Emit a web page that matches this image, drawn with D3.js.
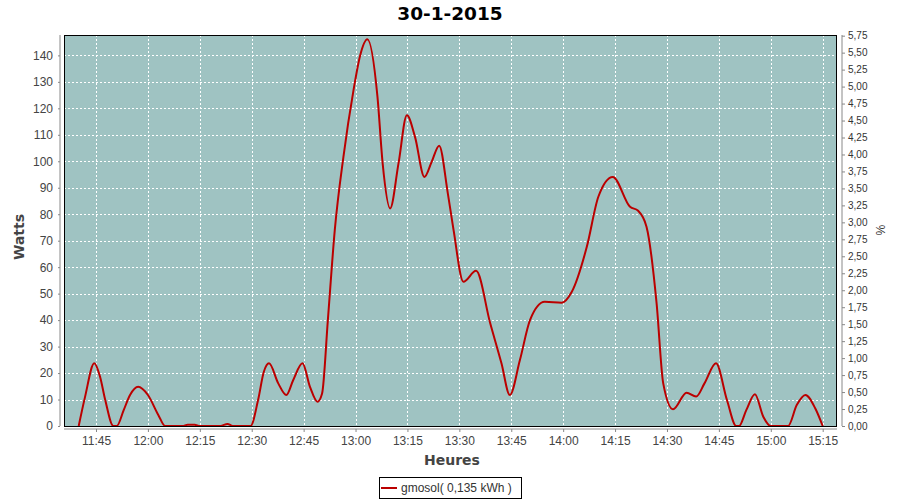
<!DOCTYPE html>
<html><head><meta charset="utf-8">
<script src="https://cdn.jsdelivr.net/npm/d3@7"></script>
<style>body{margin:0;background:#fff}svg{display:block}</style>
</head><body><svg id="c" width="900" height="500"></svg>
<script>
const chartTitle = "30-1-2015";
const times = ["11:40:00","11:41:50","11:44:30","11:46:10","11:47:40","11:50:00","11:51:00","11:53:00","11:54:50","11:57:10",
"12:00:00","12:03:00","12:05:00","12:10:00","12:11:30","12:13:30","12:15:00","12:21:00","12:23:00","12:24:30",
"12:29:40","12:31:50","12:33:30","12:35:00","12:37:40","12:40:00","12:42:00","12:44:40","12:46:50","12:49:00",
"12:50:20","12:52:00","12:54:00","12:56:30","12:59:25","13:01:20","13:03:25","13:06:20","13:07:50","13:10:00",
"13:12:25","13:14:50","13:17:10","13:19:55","13:22:00","13:24:10","13:26:40","13:28:20","13:31:10","13:34:50",
"13:38:55","13:42:10","13:44:35","13:47:30","13:50:25","13:54:40","13:59:35","14:02:30","14:06:50","14:10:10",
"14:14:20","14:19:20","14:21:40","14:24:05","14:27:00","14:28:55","14:31:45","14:35:40","14:38:25","14:40:50",
"14:44:10","14:47:20","14:50:00","14:50:50","14:52:55","14:55:25","14:57:50","15:00:00","15:05:00","15:07:30",
"15:10:00","15:12:50","15:15:00"];
const watts = [0,11,23.7,18.6,9.8,0,0,6,11.7,14.8,
11.7,4.2,0,0,0.5,0.5,0,0,0.8,0,
0,9.8,20.5,23.7,16.1,11.7,17.4,23.7,14.8,9.2,
12.3,40,74,101.7,126.9,140,146.1,124.4,99.2,82.2,
99.2,117.4,109.3,94.1,99.8,105.9,87.9,74,54.5,58.6,
38.8,23.7,11.7,24.9,40,46.9,46.6,50.7,67.7,86.6,
94.1,82.8,81.3,75.3,46.3,16.1,6.3,12.6,11.1,16.1,
23.7,9.8,0,0,6,12,3.5,0,0,7.9,
11.7,6.7,0];
const xTickLabels = ["11:45","12:00","12:15","12:30","12:45","13:00","13:15","13:30","13:45","14:00","14:15","14:30","14:45","15:00","15:15"];
const wattTicks = [0,10,20,30,40,50,60,70,80,90,100,110,120,130,140];
const pctTicks = [0,0.25,0.5,0.75,1,1.25,1.5,1.75,2,2.25,2.5,2.75,3,3.25,3.5,3.75,4,4.25,4.5,4.75,5,5.25,5.5,5.75];
const xDomain = ["11:35:45","15:19:08"];
const wattMax = 147.7, pctMax = 5.76;
const seriesName = "gmosol( 0,135 kWh )";
const xLabel = "Heures", yLabel = "Watts", y2Label = "%";

const parse = d3.timeParse("%H:%M:%S");
const pl = 64, pr = 837, pt = 35, pb = 426;
const svg = d3.select("#c");
const font = "'Liberation Sans', Arial, sans-serif";
const boldFont = "'DejaVu Sans', sans-serif";

const x = d3.scaleTime().domain(xDomain.map(parse)).range([pl, pr]);
const y = d3.scaleLinear().domain([0, wattMax]).range([pb, pt]);
const y2 = d3.scaleLinear().domain([0, pctMax]).range([pb, pt]);
const xTickDates = xTickLabels.map(s => parse(s + ":00"));

// plot background
svg.append("rect").attr("x", pl).attr("y", pt).attr("width", pr - pl).attr("height", pb - pt).attr("fill", "#9fc3c2");

// grid
const g = svg.append("g");
xTickDates.forEach(d => {
  const xx = Math.round(x(d)) + 0.5;
  g.append("line").attr("x1", xx).attr("x2", xx).attr("y1", pt).attr("y2", pb)
    .attr("stroke", "#fff").attr("stroke-dasharray", "2,2");
});
wattTicks.forEach(v => {
  const yy = Math.round(y(v)) + 0.5;
  g.append("line").attr("x1", pl).attr("x2", pr).attr("y1", yy).attr("y2", yy)
    .attr("stroke", "#fff").attr("stroke-dasharray", "2,2");
});

// line
svg.append("clipPath").attr("id", "clip").append("rect").attr("x", pl).attr("y", pt).attr("width", pr - pl).attr("height", pb - pt + 1);
const data = times.map((t, i) => ({ t: parse(t), v: watts[i] }));
svg.append("path").datum(data).attr("clip-path", "url(#clip)")
  .attr("fill", "none").attr("stroke", "#bb0000").attr("stroke-width", 2)
  .attr("d", d3.line().x(d => x(d.t)).y(d => y(d.v)).curve(d3.curveMonotoneX));

// plot border
svg.append("rect").attr("x", pl + 0.5).attr("y", pt + 0.5).attr("width", pr - pl - 1).attr("height", pb - pt)
  .attr("fill", "none").attr("stroke", "#000");

function styleAxis(sel, size, color) {
  sel.select(".domain").attr("stroke", "#888");
  sel.selectAll(".tick line").attr("stroke", "#888");
  sel.selectAll("text").attr("font-family", font).attr("font-size", size).attr("fill", color);
}

// left axis
const ya = svg.append("g").attr("transform", "translate(60,0)")
  .call(d3.axisLeft(y).tickValues(wattTicks).tickSize(2).tickSizeOuter(0).tickPadding(5).tickFormat(d3.format("d")));
ya.select(".domain").attr("d", `M-0,${pt}V${pb}`);
styleAxis(ya, 12, "#444");

// right axis
const fmtPct = v => d3.format(".2f")(v).replace(".", ",");
const y2a = svg.append("g").attr("transform", "translate(842,0)")
  .call(d3.axisRight(y2).tickValues(pctTicks).tickSize(3).tickSizeOuter(0).tickPadding(3).tickFormat(fmtPct));
y2a.select(".domain").attr("d", `M0,${pt}V${pb}`);
styleAxis(y2a, 10, "#333");

// bottom axis
const xa = svg.append("g").attr("transform", "translate(0,429)")
  .call(d3.axisBottom(x).tickValues(xTickDates).tickSize(3).tickSizeOuter(0).tickPadding(4).tickFormat(d3.timeFormat("%H:%M")));
xa.select(".domain").attr("d", `M${pl},0H${pr}`);
styleAxis(xa, 12, "#444");

// title
svg.append("text").attr("x", 450).attr("y", 20).attr("text-anchor", "middle")
  .attr("font-family", boldFont).attr("font-weight", "bold").attr("font-size", 18.5).attr("fill", "#000")
  .text(chartTitle);

// axis labels
svg.append("text").attr("x", 452).attr("y", 465).attr("text-anchor", "middle")
  .attr("font-family", boldFont).attr("font-weight", "bold").attr("font-size", 14).attr("fill", "#444").text(xLabel);
svg.append("text").attr("transform", "translate(24,237) rotate(-90)").attr("text-anchor", "middle")
  .attr("font-family", boldFont).attr("font-weight", "bold").attr("font-size", 14).attr("fill", "#444").text(yLabel);
svg.append("text").attr("transform", "translate(876,230) rotate(90)").attr("text-anchor", "middle")
  .attr("font-family", font).attr("font-size", 12).attr("fill", "#333").text(y2Label);

// legend
const lg = svg.append("g");
lg.append("rect").attr("x", 379.5).attr("y", 477.5).attr("width", 142).attr("height", 21).attr("fill", "#fff").attr("stroke", "#000");
lg.append("line").attr("x1", 381).attr("x2", 397).attr("y1", 488).attr("y2", 488).attr("stroke", "#bb0000").attr("stroke-width", 2);
lg.append("text").attr("x", 401).attr("y", 492).attr("font-family", font).attr("font-size", 12).attr("fill", "#333").text(seriesName);
</script>
</body></html>
